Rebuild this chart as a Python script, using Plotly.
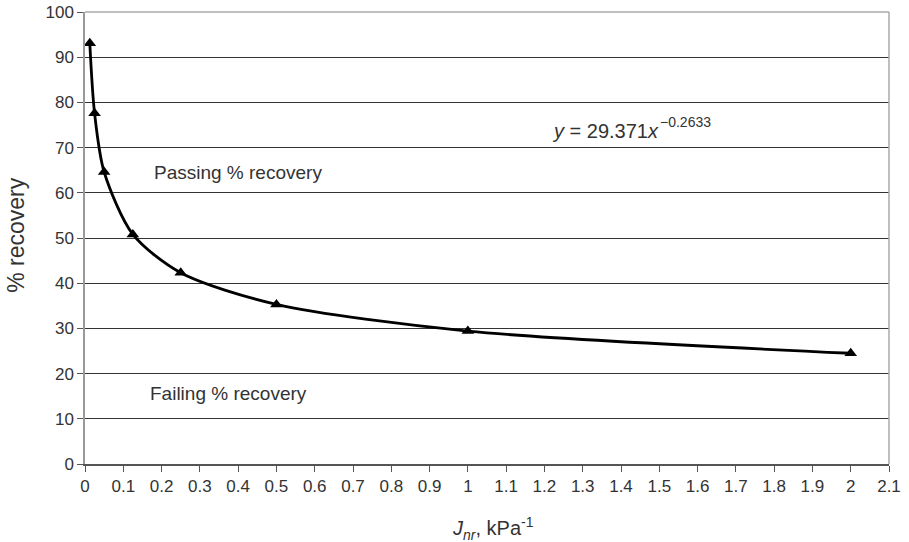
import plotly.graph_objects as go

jnr = [0.0125, 0.025, 0.05, 0.125, 0.25, 0.5, 1.0, 2.0]
recovery = [93.1, 77.6, 64.6, 50.8, 42.3, 35.3, 29.4, 24.5]

x_ticks = [round(i * 0.1, 1) for i in range(22)]
x_tick_text = ["0", "0.1", "0.2", "0.3", "0.4", "0.5", "0.6", "0.7", "0.8", "0.9", "1",
               "1.1", "1.2", "1.3", "1.4", "1.5", "1.6", "1.7", "1.8", "1.9", "2", "2.1"]
y_ticks = list(range(0, 101, 10))

FONT = "Liberation Sans, Arial, sans-serif"
TXT = "#333"

fig = go.Figure()
fig.add_trace(go.Scatter(
    x=jnr, y=recovery, mode="lines+markers",
    line=dict(color="black", width=2.8, shape="spline", smoothing=0.8),
    marker=dict(symbol="triangle-up", size=11, color="black"),
    showlegend=False, cliponaxis=False,
))

fig.update_layout(
    width=909, height=542,
    margin=dict(l=85, r=20, t=12, b=78),
    paper_bgcolor="white", plot_bgcolor="white",
    font=dict(family=FONT, size=17, color=TXT),
    xaxis=dict(range=[0, 2.1], tickvals=x_ticks, ticktext=x_tick_text, automargin=False,
               showgrid=False, zeroline=False, showline=True, linecolor="#555", linewidth=1.5,
               ticks="outside", ticklen=6, tickcolor="#555", tickfont=dict(size=17, color=TXT)),
    yaxis=dict(range=[0, 100], tickvals=y_ticks, automargin=False,
               showgrid=True, gridcolor="#333", gridwidth=1, zeroline=False,
               showline=True, linecolor="#999", linewidth=1.5,
               ticks="outside", ticklen=6, tickcolor="#555", tickfont=dict(size=17, color=TXT)),
    shapes=[
        dict(type="line", xref="paper", yref="paper", x0=1, x1=1, y0=0, y1=1,
             line=dict(color="#aaa", width=1.5)),
        dict(type="line", xref="paper", yref="paper", x0=0, x1=1, y0=1, y1=1,
             line=dict(color="#aaa", width=1.5)),
    ],
    annotations=[
        dict(xref="paper", yref="paper", x=0, y=0.507, xshift=-69, xanchor="center",
             yanchor="middle", text="% recovery",
             textangle=-90, showarrow=False, font=dict(size=23, color=TXT)),
        dict(xref="paper", yref="paper", x=0.508, y=0, yshift=-64, xanchor="center",
             yanchor="middle",
             text="<i>J<sub>nr</sub></i>, kPa<sup>-1</sup>", showarrow=False,
             font=dict(size=20, color=TXT)),
        dict(x=0.40, y=64.4, text="Passing % recovery", showarrow=False,
             font=dict(size=19, color=TXT)),
        dict(x=0.374, y=15.7, text="Failing % recovery", showarrow=False,
             font=dict(size=19, color=TXT)),
        dict(x=1.36, y=73.7, text="<i>y</i> = 29.371<i>x</i>", showarrow=False,
             font=dict(size=20, color=TXT)),
        dict(x=1.497, y=75.6, xanchor="left", text="−0.2633", showarrow=False,
             font=dict(size=14, color=TXT)),
    ],
)

fig.write_html("out.html", config={"displayModeBar": False},
               post_script="document.body.style.margin='0';")
